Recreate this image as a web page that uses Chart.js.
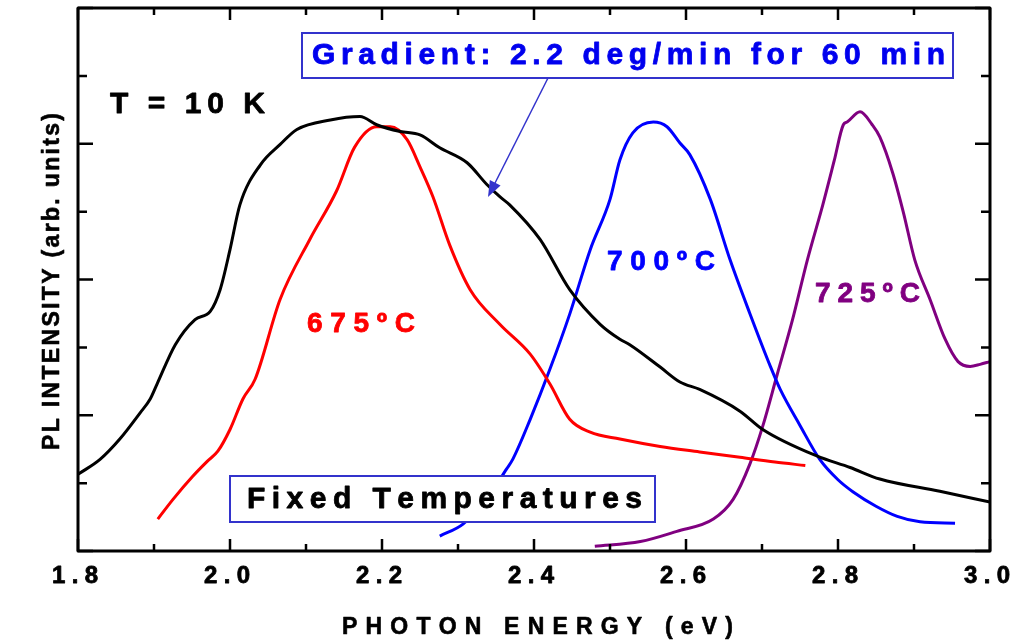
<!DOCTYPE html>
<html>
<head>
<meta charset="utf-8">
<script src="https://cdn.jsdelivr.net/npm/chart.js@4/dist/chart.umd.min.js"></script>
<style>
  body { margin: 0; background: #fff; }
  #wrap { width: 1021px; height: 641px; }
</style>
</head>
<body>
<div id="wrap"><canvas id="plChart"></canvas></div>
<script>
// axis ranges / ticks
const xMin = 1.8, xMax = 3.0;
const yMin = 0, yMax = 8;
const xTickLabels = ['1.8', '2.0', '2.2', '2.4', '2.6', '2.8', '3.0'];

// gradient growth (2.2 deg/min for 60 min)
const gradE = [1.800, 1.829, 1.855, 1.882, 1.895, 1.904, 1.928, 1.954, 1.974, 1.987, 2.000, 2.013, 2.040, 2.066, 2.088, 2.132, 2.171, 2.193, 2.224, 2.250, 2.276, 2.312, 2.338, 2.355, 2.368, 2.408, 2.447, 2.487, 2.513, 2.526, 2.566, 2.592, 2.618, 2.671, 2.701, 2.772, 2.816, 2.855, 2.934, 3.000];
const gradI = [1.13, 1.35, 1.65, 2.04, 2.24, 2.46, 3.04, 3.41, 3.53, 3.85, 4.44, 5.10, 5.69, 5.99, 6.21, 6.35, 6.40, 6.28, 6.18, 6.13, 5.94, 5.72, 5.40, 5.22, 5.10, 4.59, 3.85, 3.34, 3.12, 3.04, 2.71, 2.49, 2.38, 2.06, 1.79, 1.40, 1.23, 1.06, 0.88, 0.72];

// fixed temperature 675 C
const e675 = [1.905, 1.925, 1.951, 1.970, 1.984, 2.000, 2.017, 2.033, 2.066, 2.105, 2.140, 2.164, 2.193, 2.211, 2.233, 2.250, 2.267, 2.289, 2.316, 2.355, 2.395, 2.421, 2.447, 2.474, 2.513, 2.566, 2.618, 2.671, 2.717, 2.757];
const i675 = [0.47, 0.76, 1.10, 1.32, 1.47, 1.79, 2.24, 2.53, 3.71, 4.59, 5.30, 5.95, 6.25, 6.25, 6.06, 5.66, 5.22, 4.51, 3.85, 3.34, 2.90, 2.46, 1.94, 1.75, 1.65, 1.54, 1.46, 1.38, 1.31, 1.26];

// fixed temperature 700 C
const e700 = [2.276, 2.307, 2.340, 2.364, 2.372, 2.395, 2.421, 2.447, 2.474, 2.500, 2.513, 2.530, 2.557, 2.575, 2.592, 2.605, 2.632, 2.658, 2.684, 2.711, 2.724, 2.750, 2.776, 2.800, 2.820, 2.850, 2.878, 2.908, 2.954];
const i700 = [0.22, 0.40, 0.80, 1.21, 1.35, 1.94, 2.68, 3.49, 4.44, 5.18, 5.76, 6.16, 6.32, 6.25, 6.01, 5.84, 5.18, 4.29, 3.50, 2.72, 2.38, 1.85, 1.35, 1.05, 0.87, 0.66, 0.51, 0.43, 0.41];

// fixed temperature 725 C
const e725 = [2.480, 2.540, 2.588, 2.636, 2.662, 2.684, 2.701, 2.720, 2.740, 2.760, 2.780, 2.795, 2.807, 2.812, 2.829, 2.845, 2.855, 2.872, 2.886, 2.901, 2.921, 2.941, 2.958, 2.974, 2.987, 3.000];
const i725 = [0.07, 0.14, 0.29, 0.47, 0.76, 1.28, 1.84, 2.60, 3.40, 4.30, 5.10, 5.75, 6.28, 6.32, 6.47, 6.28, 6.10, 5.57, 4.99, 4.29, 3.71, 3.12, 2.79, 2.72, 2.75, 2.79];

const FONT = '"Liberation Sans", Arial, sans-serif';

function pts(xs, ys) { return xs.map((x, i) => ({x: x, y: ys[i]})); }

// draw text char by char so it spans [x0, x1]; thin stroke makes it heavier
function spaced(ctx, text, x0, x1, y, heavy) {
  const chars = Array.from(text);
  const ws = chars.map(c => ctx.measureText(c).width);
  const total = ws.reduce((a, b) => a + b, 0);
  const gap = chars.length > 1 ? (x1 - x0 - total) / (chars.length - 1) : 0;
  let x = x0;
  ctx.textAlign = 'left';
  ctx.lineWidth = heavy || 0.8;
  ctx.strokeStyle = ctx.fillStyle;
  ctx.lineJoin = 'round';
  chars.forEach((c, i) => {
    ctx.fillText(c, x, y);
    ctx.strokeText(c, x, y);
    x += ws[i] + gap;
  });
}

const decor = {
  id: 'decor',
  afterDatasetsDraw(chart) {
    const ctx = chart.ctx;
    const a = chart.chartArea;
    const xs = chart.scales.x, ys = chart.scales.y;
    ctx.save();

    // boxed labels (white fill hides curves behind)
    function box(x0, y0, x1, y1) {
      ctx.fillStyle = '#fff';
      ctx.fillRect(x0, y0, x1 - x0, y1 - y0);
      ctx.strokeStyle = '#3333cc';
      ctx.lineWidth = 2;
      ctx.strokeRect(x0, y0, x1 - x0, y1 - y0);
    }
    box(302, 33, 953, 78);
    box(230, 476, 655, 522);

    ctx.textBaseline = 'alphabetic';
    ctx.font = 'bold 30px ' + FONT;
    ctx.fillStyle = '#0000ee';
    spaced(ctx, 'Gradient: 2.2 deg/min for 60 min', 312, 945, 64);
    ctx.fillStyle = '#000';
    spaced(ctx, 'Fixed Temperatures', 247, 642, 508);

    ctx.font = 'bold 30px ' + FONT;
    spaced(ctx, 'T = 10 K', 110, 265, 113);

    ctx.font = 'bold 28px ' + FONT;
    ctx.fillStyle = '#ff0000';
    spaced(ctx, '675\u00baC', 307, 415, 332);
    ctx.fillStyle = '#0000ff';
    spaced(ctx, '700\u00baC', 607, 715, 270);
    ctx.fillStyle = '#800080';
    spaced(ctx, '725\u00baC', 815, 920, 302);

    // arrow from gradient box to the black curve
    const ax0 = 548, ay0 = 78, ax1 = 488, ay1 = 197;
    const ang = Math.atan2(ay1 - ay0, ax1 - ax0);
    ctx.strokeStyle = '#3333cc';
    ctx.fillStyle = '#3333cc';
    ctx.lineWidth = 1.5;
    ctx.beginPath();
    ctx.moveTo(ax0, ay0);
    ctx.lineTo(ax1 - 12 * Math.cos(ang), ay1 - 12 * Math.sin(ang));
    ctx.stroke();
    ctx.beginPath();
    ctx.moveTo(ax1, ay1);
    ctx.lineTo(ax1 - 16 * Math.cos(ang) + 6 * Math.sin(ang), ay1 - 16 * Math.sin(ang) - 6 * Math.cos(ang));
    ctx.lineTo(ax1 - 16 * Math.cos(ang) - 6 * Math.sin(ang), ay1 - 16 * Math.sin(ang) + 6 * Math.cos(ang));
    ctx.closePath();
    ctx.fill();

    // frame
    ctx.strokeStyle = '#000';
    ctx.lineWidth = 3;
    ctx.strokeRect(a.left, a.top, a.right - a.left, a.bottom - a.top);

    // inward ticks on all sides
    ctx.lineWidth = 2.5;
    ctx.beginPath();
    for (let k = 0; k <= 12; k++) {
      const v = xMin + k * 0.1;
      const px = xs.getPixelForValue(v);
      const len = k % 2 === 0 ? 12 : 7;
      ctx.moveTo(px, a.bottom); ctx.lineTo(px, a.bottom - len);
      ctx.moveTo(px, a.top); ctx.lineTo(px, a.top + len);
    }
    for (let k = 0; k <= 8; k++) {
      const py = ys.getPixelForValue(yMin + k);
      const len = k % 2 === 0 ? 15 : 9;
      ctx.moveTo(a.left, py); ctx.lineTo(a.left + len, py);
      ctx.moveTo(a.right, py); ctx.lineTo(a.right - len, py);
    }
    ctx.stroke();

    // tick labels
    ctx.fillStyle = '#000';
    ctx.font = 'bold 24px ' + FONT;
    xTickLabels.forEach(t => {
      const px = xs.getPixelForValue(parseFloat(t)) - 3;
      spaced(ctx, t, px - 23, px + 23, 583);
    });

    // axis titles
    ctx.font = 'bold 23px ' + FONT;
    spaced(ctx, 'PHOTON ENERGY (eV)', 342, 733, 634, 0.6);
    ctx.translate(59, 281);
    ctx.rotate(-Math.PI / 2);
    ctx.font = 'bold 23px ' + FONT;
    spaced(ctx, 'PL INTENSITY (arb. units)', -169, 168, 0, 0.6);
    ctx.restore();
  }
};

function line(data, color, w) {
  return { data: data, borderColor: color, borderWidth: w, pointRadius: 0, fill: false, cubicInterpolationMode: 'monotone' };
}

new Chart(document.getElementById('plChart'), {
  type: 'line',
  data: {
    datasets: [
      line(pts(gradE, gradI), '#000000', 3),
      line(pts(e675, i675), '#ff0000', 3),
      line(pts(e700, i700), '#0000ff', 3),
      line(pts(e725, i725), '#800080', 3)
    ]
  },
  options: {
    responsive: true,
    maintainAspectRatio: false,
    animation: false,
    layout: { padding: { left: 78, top: 8, right: 31, bottom: 90 } },
    plugins: { legend: { display: false }, tooltip: { enabled: false } },
    scales: {
      x: { type: 'linear', min: xMin, max: xMax, display: false },
      y: { type: 'linear', min: yMin, max: yMax, display: false }
    }
  },
  plugins: [decor]
});
</script>
</body>
</html>
